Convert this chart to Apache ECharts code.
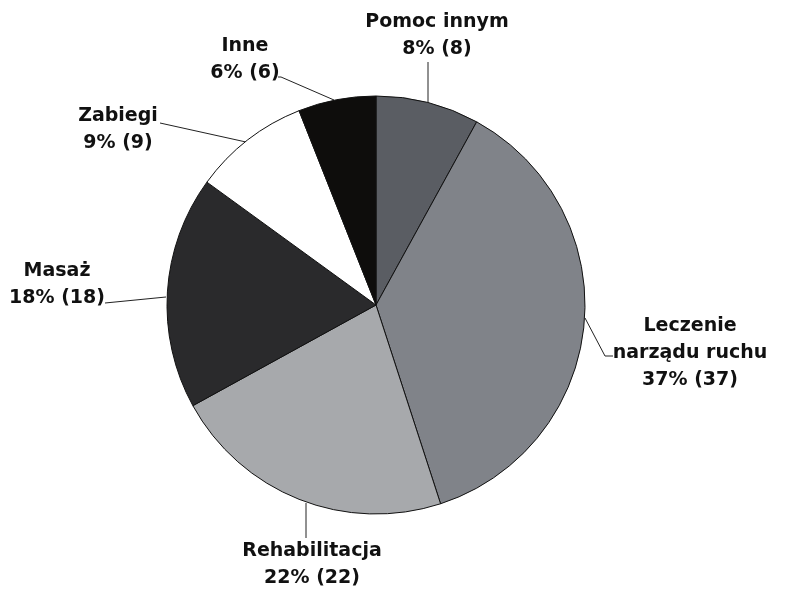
<!DOCTYPE html>
<html><head><meta charset="utf-8">
<script src="https://cdn.jsdelivr.net/npm/echarts@6/dist/echarts.min.js"></script>
<style>html,body{margin:0;padding:0;background:#fff}#c{width:793px;height:606px}</style>
</head><body><div id="c"></div>
<script>
const categories = ['Pomoc innym', 'Leczenie\nnarządu ruchu', 'Rehabilitacja', 'Masaż', 'Zabiegi', 'Inne'];
const values = [8, 37, 22, 18, 9, 6];
const colors = ['#5a5d63', '#808389', '#a7a9ac', '#2a2a2c', '#ffffff', '#0e0d0c'];

// label placement (layout only)
const labelPos = [
  {x: 437, y: 36, line: [[428, 102], [428, 62]]},
  {x: 690, y: 353, line: [[585, 318], [605, 356], [613, 356]]},
  {x: 312, y: 565, line: [[306, 503], [306, 538]]},
  {x: 57, y: 285, line: [[166, 297], [105, 303]]},
  {x: 118, y: 130, line: [[246, 142], [160, 123]]},
  {x: 245, y: 60, line: [[334, 100], [281, 77], [278, 77]]}
];

const chart = echarts.init(document.getElementById('c'));
chart.setOption({
  backgroundColor: '#fff',
  animation: false,
  series: [{
    type: 'pie',
    center: [376, 305],
    radius: [0, 209],
    startAngle: 90,
    clockwise: true,
    data: categories.map((n, i) => ({name: n, value: values[i], itemStyle: {color: colors[i]}})),
    itemStyle: {borderColor: '#111', borderWidth: 1},
    label: {
      show: true,
      position: 'outside',
      overflow: 'none',
      formatter: p => p.name + '\n' + Math.round(p.percent) + '% (' + p.value + ')',
      fontFamily: 'DejaVu Sans',
      fontWeight: 'bold',
      fontSize: 19,
      lineHeight: 27,
      color: '#111',
      align: 'center'
    },
    labelLine: {show: true, lineStyle: {color: '#222', width: 1}},
    labelLayout: p => {
      const L = labelPos[p.dataIndex];
      return {x: L.x, y: L.y, align: 'center', verticalAlign: 'middle', labelLinePoints: L.line};
    },
    emphasis: {disabled: true}
  }]
});
</script></body></html>
